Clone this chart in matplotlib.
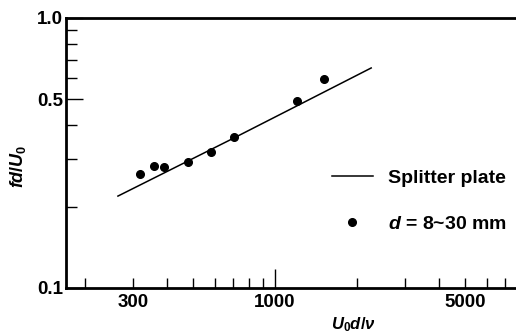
import numpy as np
import matplotlib
matplotlib.use("Agg")
import matplotlib.pyplot as plt

plt.rcParams['font.family'] = ['Liberation Sans', 'DejaVu Sans']
plt.rcParams['font.weight'] = 'bold'
plt.rcParams['mathtext.fontset'] = 'custom'
plt.rcParams['mathtext.it'] = 'Liberation Sans:italic:bold'
plt.rcParams['mathtext.rm'] = 'Liberation Sans:bold'
plt.rcParams['mathtext.bf'] = 'Liberation Sans:bold'

# measured points, d = 8~30 mm
re_pts = [318, 358, 390, 478, 581, 706, 1205, 1515]
st_pts = [0.2645, 0.283, 0.2806, 0.293, 0.319, 0.3625, 0.493, 0.594]

# splitter plate curve
re_line = [264, 700, 1200, 2257]
st_line = [0.219, 0.358, 0.472, 0.653]

x_major = [1000]
x_minor = [200, 300, 400, 500, 600, 700, 800, 900, 2000, 3000, 4000, 5000, 6000, 7000]
x_minor_lab = ['', '300', '', '', '', '', '', '', '', '', '', '5000', '', '']
y_major = [0.1, 0.5, 1.0]
y_major_lab = ['0.1', '0.5', '1.0']
y_minor = [0.2, 0.3, 0.4, 0.6, 0.7, 0.8, 0.9]

fig = plt.figure(figsize=(5.16, 3.34), dpi=100)
ax = fig.add_axes([66/516, 1-288/334, 1-66/516, (288-18)/334])
ax.set_xscale('log')
ax.set_yscale('log')
ax.set_xlim(170, 7700)
ax.set_ylim(0.1, 1.0)

ax.plot(re_line, st_line, color='black', lw=1.1, label='Splitter plate')
ax.plot(re_pts, st_pts, 'o', color='black', ms=5.5, label='$d$ = 8~30 mm')

ax.set_xticks(x_major, labels=['1000'])
ax.set_xticks(x_minor, labels=x_minor_lab, minor=True)
ax.set_yticks(y_major, labels=y_major_lab)
ax.set_yticks(y_minor, labels=[], minor=True)

ax.tick_params(axis='x', which='major', direction='in', length=14, width=1, labelsize=13.5, pad=4)
ax.tick_params(axis='x', which='minor', direction='in', length=7, width=1, labelsize=13.5, pad=4)
ax.tick_params(axis='y', which='major', direction='in', length=12, width=1, labelsize=13.5, pad=2)
ax.tick_params(axis='y', which='minor', direction='in', length=8, width=1)

for s in ['left', 'bottom', 'top']:
    ax.spines[s].set_linewidth(2)
ax.spines['right'].set_visible(False)

ax.set_ylabel('$fd/U_0$', fontsize=13)
ax.yaxis.set_label_coords(-0.085, 0.45)
ax.set_xlabel(r'$U_0d/\nu$', fontsize=12)
ax.xaxis.set_label_coords((353-66)/450, -0.1)

ax.legend(loc='upper left', bbox_to_anchor=(266/450, 0.44), frameon=False,
          fontsize=14, handlelength=2.1, handletextpad=0.8, labelspacing=1.45,
          borderpad=0, borderaxespad=0)

fig.savefig('out.png', dpi=100)
